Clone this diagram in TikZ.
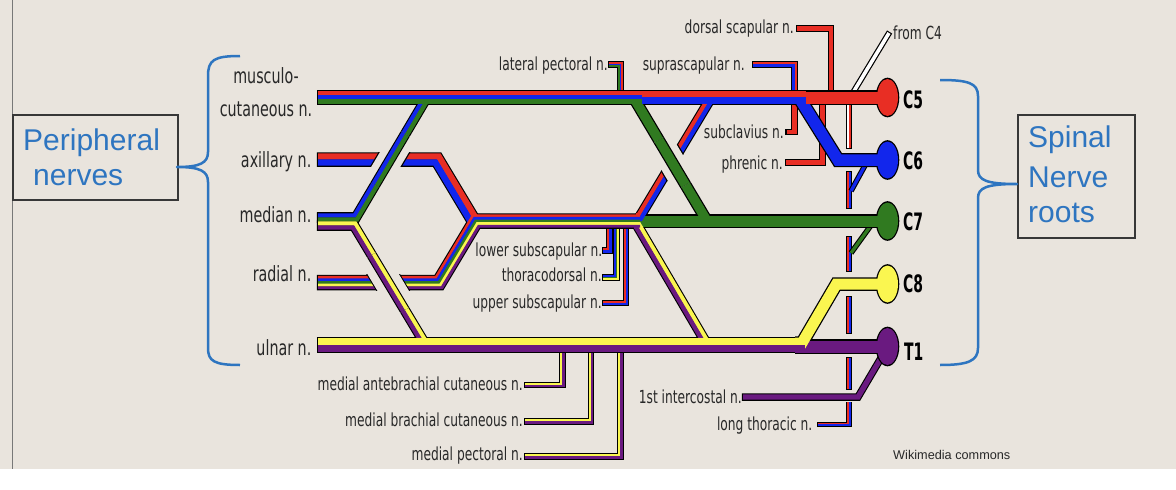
\documentclass[tikz,border=0pt]{standalone}
\usepackage{fontspec}
\setmainfont{Liberation Sans}
\newfontfamily\labf[FakeStretch=0.68]{DejaVu Sans}
\newfontfamily\cfont[FakeStretch=0.58]{DejaVu Sans}
\definecolor{bgc}{RGB}{233,228,221}
\definecolor{nred}{RGB}{232,46,36}
\definecolor{nblue}{RGB}{18,38,236}
\definecolor{ngreen}{RGB}{48,122,32}
\definecolor{nyellow}{RGB}{250,246,80}
\definecolor{npurple}{RGB}{106,26,128}
\definecolor{bracec}{RGB}{46,117,192}
\definecolor{boxc}{RGB}{55,55,55}
\definecolor{labc}{RGB}{40,40,40}
\definecolor{lgray}{RGB}{120,120,120}
% bundle with one diagonal direction (#1,#2), stripe width #3, list #4, path #5
\newcommand\bnd[5]{%
  \pgfmathsetmacro\bUx{(#1)/veclen(#1,#2)}%
  \pgfmathsetmacro\bUy{(#2)/veclen(#1,#2)}%
  \foreach \od/\oc in {#4}{%
    \pgfmathsetmacro\bVx{(\od)*(\bUx-1)/\bUy}%
    \draw[\oc, line width=#3+0.3] #5;}}
% horizontal stripes: width, list, x1, x2, y
\newcommand\hbnd[5]{%
  \foreach \od/\oc in {#2}{\draw[\oc, line width=#1+0.3] (#3,{#5+(\od)}) -- (#4,{#5+(\od)});}}
% L-shaped branch: x, y0, y1, x1, sign, stripe w, outline w, list
\newcommand\lbr[8]{%
  \draw[black, line width=#7] (#1,#2) -- (#1,#3) -- ({#4-1.1},#3);
  \foreach \od/\oc in {#8}{\draw[\oc, line width=#6+0.2] ({#1+(\od)},#2) -- ({#1+(\od)},{#3+(#5)*(\od)}) -- (#4,{#3+(#5)*(\od)});}}
% vertical branch piece: x, y0, y1, stripe w, outline w, list
\newcommand\vbr[6]{%
  \draw[black, line width=#5] (#1,{#2-1}) -- (#1,{#3+1});
  \foreach \od/\oc in {#6}{\draw[\oc, line width=#4+0.2] ({#1+(\od)},#2) -- ({#1+(\od)},#3);}}
% straight segment with stripes: x1,y1,x2,y2, stripe w, outline w, list
\newcommand\sbnd[7]{%
  \pgfmathsetmacro\sUx{(#3-#1)/veclen(#3-#1,#4-#2)}%
  \pgfmathsetmacro\sUy{(#4-#2)/veclen(#3-#1,#4-#2)}%
  \draw[black, line width=#6] (#1,#2) -- (#3,#4);
  \foreach \od/\oc in {#7}{\draw[\oc, line width=#5+0.3] ({#1-(\od)*\sUy},{#2+(\od)*\sUx}) -- ({#3-(\od)*\sUy},{#4+(\od)*\sUx});}}
\tikzset{
  big/.style={font=\labf\fontsize{21}{21}\selectfont, text=labc, inner sep=0},
  sml/.style={font=\labf\fontsize{18}{18}\selectfont, text=labc, inner sep=0},
  root/.style={font=\cfont\bfseries\fontsize{24}{24}\selectfont, text=black, inner sep=0},
  boxt/.style={font=\fontsize{30}{30}\selectfont, text=bracec, inner sep=0},
  brc/.style={bracec, line width=2.5, line join=round},
  bxs/.style={draw=boxc, line width=1.8, inner sep=0, anchor=north west}
}
\begin{document}
\begin{tikzpicture}[x=1pt, y=-1pt, line join=miter]
\useasboundingbox (0,0) rectangle (1176,490);
\fill[white] (0,0) rectangle (1176,490);
\fill[bgc] (0,0) rectangle (1176,469);
\draw[lgray, line width=1.2] (12.5,0) -- (12.5,469);

% ---------- layer 1: thin branches ----------
\vbr{849}{100}{148}{1.8}{5.8}{-0.9/white,0.9/nred}
\vbr{849}{172}{208}{1.8}{5.8}{-0.9/nred,0.9/nblue}
\vbr{849}{237}{271}{1.8}{5.8}{-0.9/nred,0.9/nblue}
\vbr{849}{297}{333}{1.8}{5.8}{-0.9/nred,0.9/nblue}
\vbr{849}{358}{389}{1.8}{5.8}{-0.9/nred,0.9/nblue}
\lbr{849}{402}{424.5}{818}{1}{1.8}{5.8}{-0.9/nred,0.9/nblue}
\draw[black, line width=5.5] (868,160) -- (851,191);
\draw[nblue, line width=3.3] (868,160) -- (851,191);
\draw[black, line width=5.5] (877,217) -- (851,253);
\draw[ngreen, line width=3.3] (877,217) -- (851,253);
% from C4
\draw[black, line width=6] (889.6,32) -- (851,96);
\draw[white, line width=3.6] (889,33) -- (851,96);
% 1st intercostal
\draw[black, line width=7.5] (881,358) -- (858,397) -- (741.9,397);
\draw[npurple, line width=5.3] (881,358) -- (858,397) -- (743,397);
% medial branches
\lbr{562.5}{345}{385}{525}{1}{2.2}{6.6}{-1.1/nyellow,1.1/npurple}
\lbr{591}{345}{421.5}{525}{1}{2.2}{6.6}{-1.1/nyellow,1.1/npurple}
\lbr{620.5}{345}{456.5}{525}{1}{2.2}{6.6}{-1.1/nyellow,1.1/npurple}
% posterior branches
\lbr{609.5}{221}{250.5}{603}{1}{2.2}{6.6}{-1.1/nred,1.1/nblue}
\lbr{616.5}{221}{277.5}{603}{1}{1.5}{6.7}{-1.5/nblue,0/ngreen,1.5/nyellow}
\lbr{626}{221}{303}{603}{1}{2.2}{6.6}{-1.1/nred,1.1/nblue}
% upper branches
\lbr{620.5}{97}{64.5}{609}{-1}{1.5}{6.7}{1.5/nred,0/nblue,-1.5/ngreen}
\lbr{794.5}{97}{64.5}{753}{-1}{2.2}{6.6}{1.1/nred,-1.1/nblue}
\lbr{831}{97}{28.5}{797}{-1}{4.6}{6.8}{0/nred}
\lbr{794.5}{97}{132}{786.5}{1}{4.6}{6.8}{0/nred}
\lbr{822.5}{97}{162.5}{786}{1}{4.6}{6.8}{0/nred}

% ---------- layer 2: outlines ----------
\draw[black,line width=14.5] (316.8,97.5) -- (882,97.5);
\draw[black,line width=18.5] (316.8,221.5) -- (353,221.5);
\draw[black,line width=15.5] (316.8,345) -- (810,345);
\draw[black,line width=14.5] (795,346.5) -- (882,346.5);
\draw[black,line width=14] (799,97.5) -- (838,160) -- (882,160);
\draw[black,line width=12] (633.5,97.5) -- (707,221);
\draw[black,line width=13.5] (636,221) -- (882,221);
\draw[black,line width=13.5] (795,343) -- (802,343) -- (836.5,284) -- (882,284);
\draw[black,line width=10.5] (636,217) -- (639.6,217) -- (711.3,97.5) -- (722,97.5);
\draw[black,line width=10.5] (634,224.9) -- (637,224.9) -- (707.4,345) -- (720,345);
\draw[black,line width=14.5] (316.8,159.5) -- (437,159.5) -- (473.9,221) -- (490,221);
\draw[black,line width=10.5] (316.8,217.5) -- (355.8,217.5) -- (425.6,99.5) -- (440,99.5);
\draw[black,line width=10.5] (316.8,225.5) -- (354,225.5) -- (425.7,345) -- (440,345);
\draw[black,line width=15.5] (316.8,282.5) -- (439,282.5) -- (475.9,221) -- (640,221);
\foreach \yy in {97.5,160,221,284,346.5}{\fill[black] (887.5,\yy) ellipse [x radius=11.8, y radius=19.8];}

% ---------- layer 3: colour ----------
\draw[nblue, line width=11.5] (799,97.5) -- (838,160) -- (882,160);
\draw[ngreen, line width=9.5] (633.5,97.5) -- (707,221);
\draw[ngreen, line width=11] (636,221) -- (882,221);
\draw[npurple, line width=12] (795,346.5) -- (882,346.5);
\draw[nyellow, line width=11] (795,343) -- (802,343) -- (836.5,284) -- (882,284);
\bnd{71.7}{-119.5}{4}{-2/nred,2/nblue}{(636,{217+(\od)}) -- ({639.6+(\bVx)},{217+(\od)}) -- ({711.3+(\bVx)},{97.5+(\od)}) -- (722,{97.5+(\od)})}
\bnd{70.4}{120.1}{4}{-2/nyellow,2/npurple}{(634,{224.9+(\od)}) -- ({637+(\bVx)},{224.9+(\od)}) -- ({707.4+(\bVx)},{345+(\od)}) -- (720,{345+(\od)})}
\bnd{36.9}{61.5}{6}{-3/nred,3/nblue}{(318,{159.5+(\od)}) -- ({437+(\bVx)},{159.5+(\od)}) -- ({473.9+(\bVx)},{221+(\od)}) -- (490,{221+(\od)})}
\bnd{69.8}{-118}{4}{-2/nblue,2/ngreen}{(318,{217.5+(\od)}) -- ({355.8+(\bVx)},{217.5+(\od)}) -- ({425.6+(\bVx)},{99.5+(\od)}) -- (440,{99.5+(\od)})}
\bnd{71.7}{119.5}{4}{-2/nyellow,2/npurple}{(318,{225.5+(\od)}) -- ({354+(\bVx)},{225.5+(\od)}) -- ({425.7+(\bVx)},{345+(\od)}) -- (440,{345+(\od)})}
\bnd{36.9}{-61.5}{2.6}{-5.2/nred,-2.6/nblue,0/ngreen,2.6/nyellow,5.2/npurple}{(318,{282.5+(\od)}) -- ({439+(\bVx)},{282.5+(\od)}) -- ({475.9+(\bVx)},{221+(\od)}) -- (640,{221+(\od)})}
\hbnd{4}{-4/nred,0/nblue,4/ngreen}{318}{642}{97.5}
\hbnd{6}{-3/nred,3/nblue}{642}{806}{97.5}
\draw[nred, line width=12] (806,97.5) -- (882,97.5);
\hbnd{6.5}{-3.25/nyellow,3.25/npurple}{318}{805}{345}
\fill[nred] (887.5,97.5) ellipse [x radius=10.5, y radius=18.5];
\fill[nblue] (887.5,160) ellipse [x radius=10.5, y radius=18.5];
\fill[ngreen] (887.5,221) ellipse [x radius=10.5, y radius=18.5];
\fill[nyellow] (887.5,284) ellipse [x radius=10.5, y radius=18.5];
\fill[npurple] (887.5,346.5) ellipse [x radius=10.5, y radius=18.5];

% ---------- layer 4: crossings ----------
\begin{scope}\clip (330,152.25) rectangle (460,166.75);
\draw[black, line width=27.5] (375.02,185) -- (405.19,134);\end{scope}
\draw[bgc, line width=25] (375.02,185) -- (405.19,134);
\sbnd{375.02}{185}{405.19}{134}{4}{10.5}{-2/nblue,2/ngreen}
\begin{scope}\clip (330,274.75) rectangle (460,290.25);
\draw[black, line width=29] (371.7,255) -- (404.7,310);\end{scope}
\draw[bgc, line width=27] (371.7,255) -- (404.7,310);
\sbnd{371.7}{255}{404.7}{310}{4}{10.5}{-2/nyellow,2/npurple}
\begin{scope}\clip (654.3,202.7) -- (696.3,132.7) -- (687.3,127.3) -- (645.3,197.3) -- cycle;
\draw[black, line width=28.5] (658.79,140) -- (685.57,185);\end{scope}
\draw[bgc, line width=26] (658.79,140) -- (685.57,185);
\draw[black, line width=12] (658.79,140) -- (685.57,185);
\draw[ngreen, line width=9.5] (658.79,140) -- (685.57,185);

% ---------- labels ----------
\node[big, anchor=base] (lmc1) at (266,83) {musculo-};
\node[big, anchor=base] (lmc2) at (266,116.7) {cutaneous n.};
\node[big, anchor=base east] (lax) at (311.5,167) {axillary n.};
\node[big, anchor=base east] (lme) at (311.5,222.5) {median n.};
\node[big, anchor=base east] (lra) at (311.5,281.7) {radial n.};
\node[big, anchor=base east] (lul) at (311.5,355) {ulnar n.};
\node[sml, anchor=base east] (llp) at (608,70.5) {lateral pectoral n.};
\node[sml, anchor=base east] (lss) at (745,70.5) {suprascapular n.};
\node[sml, anchor=base east] (lds) at (794,33.5) {dorsal scapular n.};
\node[sml, anchor=base east] (lsc) at (784,138) {subclavius n.};
\node[sml, anchor=base east] (lph) at (783,169) {phrenic n.};
\node[sml, anchor=base east] (lls) at (602.5,256.7) {lower subscapular n.};
\node[sml, anchor=base east] (ltd) at (602,281.7) {thoracodorsal n.};
\node[sml, anchor=base east] (lus) at (602,308) {upper subscapular n.};
\node[sml, anchor=base east] (lmac) at (523,390) {medial antebrachial cutaneous n.};
\node[sml, anchor=base east] (lmbc) at (523,426) {medial brachial cutaneous n.};
\node[sml, anchor=base east] (lmp) at (523,460.7) {medial pectoral n.};
\node[sml, anchor=base east] (lic) at (742,403.3) {1st intercostal n.};
\node[sml, anchor=base east] (llt) at (812.5,430) {long thoracic n.};
\node[sml, anchor=base west] (lc4) at (893,39) {from C4};
\node[root, anchor=base west] (r5) at (903,108.3) {C5};
\node[root, anchor=base west] (r6) at (903,169) {C6};
\node[root, anchor=base west] (r7) at (903,230.7) {C7};
\node[root, anchor=base west] (r8) at (903,292.7) {C8};
\node[root, anchor=base west] (r1) at (904,360) {T1};
\node[anchor=base west, inner sep=0, font=\fontsize{12.7}{13}\selectfont, text=labc] (wm) at (893,459.3) {Wikimedia commons};

% ---------- boxes and braces ----------
\node[bxs, minimum width=165, minimum height=85] (pbox) at (12,114) {};
\node[boxt, anchor=base west] (pt1) at (23,150) {Peripheral};
\node[boxt, anchor=base west] (pt2) at (33,185) {nerves};
\node[bxs, minimum width=117, minimum height=123] (sbox) at (1017,114) {};
\node[boxt, anchor=base west] (st1) at (1028,147.5) {Spinal};
\node[boxt, anchor=base west] (st2) at (1028,187) {Nerve};
\node[boxt, anchor=base west] (st3) at (1028,222) {roots};
\draw[brc] (240,56) .. controls (214,56) and (208,60) .. (208,76) -- (208,152)
  .. controls (208,163) and (200,167) .. (177,167)
  .. controls (200,167) and (208,171) .. (208,182) -- (208,348)
  .. controls (208,361) and (214,365) .. (240,365);
\draw[brc] (940,80) .. controls (968,80) and (978,83) .. (978,96) -- (978,170)
  .. controls (978,180) and (986,184) .. (1017,184)
  .. controls (986,184) and (978,188) .. (978,198) -- (978,348)
  .. controls (978,361) and (968,365) .. (940,365);
\end{tikzpicture}
\end{document}
